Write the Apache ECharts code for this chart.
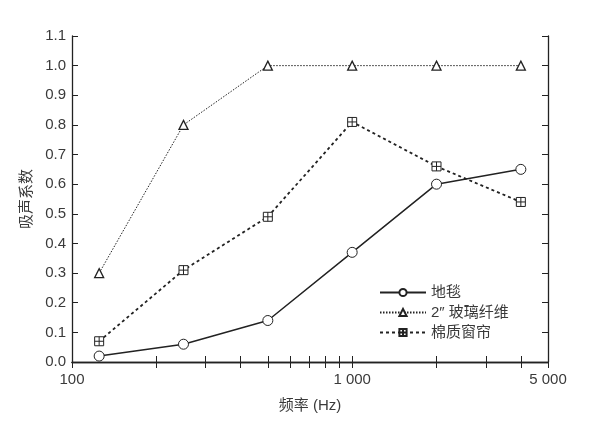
<!DOCTYPE html>
<html>
<head>
<meta charset="utf-8">
<style>
  html, body { margin: 0; padding: 0; background: #fff; }
  #chart { width: 600px; height: 424px; }
</style>
<script src="https://cdn.jsdelivr.net/npm/echarts@6/dist/echarts.min.js"></script>
</head>
<body>
<div id="chart"></div>
<script>
// 频率 (Hz)
const freqs = [125, 250, 500, 1000, 2000, 4000]
const carpet = [0.02, 0.06, 0.14, 0.37, 0.60, 0.65]
const glassFiber = [0.30, 0.80, 1.00, 1.00, 1.00, 1.00]
const curtain = [0.07, 0.31, 0.49, 0.81, 0.66, 0.54]

const xTickValues = [100, 200, 300, 400, 500, 600, 700, 800, 900, 1000, 2000, 3000, 4000, 5000]
const xLabelValues = [100, 1000, 5000]

const font = "'Liberation Sans', Arial, 'Noto Sans CJK SC', sans-serif"
const ink = '#222'
const textColor = '#3a3a3a'

const pairs = vals => freqs.map((f, i) => [f, vals[i]])
const fmtFreq = v => {
  v = Math.round(v)
  return v >= 1000 ? String(v).replace(/(\d)(?=(\d{3})+$)/, '$1 ') : String(v)
}

const chart = echarts.init(document.getElementById('chart'))

const xBase = {
  type: 'log',
  logBase: 10,
  min: 100,
  max: 5000,
  axisLine: { show: true, lineStyle: { color: ink, width: 1.3 } },
  axisTick: { inside: true, length: 6, customValues: xTickValues, lineStyle: { color: ink, width: 1 } },
  minorTick: { show: false },
  splitLine: { show: false }
}
const yBase = {
  type: 'value',
  min: 0,
  max: 1.1,
  interval: 0.1,
  axisLine: { show: true, lineStyle: { color: ink, width: 1.3 } },
  axisTick: { show: true, inside: true, length: 6, lineStyle: { color: ink, width: 1 } },
  splitLine: { show: false }
}

chart.setOption({
  backgroundColor: '#fff',
  animation: false,
  textStyle: { fontFamily: font },
  grid: { left: 72, right: 52, top: 36, bottom: 62 },
  legend: {
    orient: 'vertical',
    left: 374,
    top: 280,
    itemWidth: 46,
    itemHeight: 9,
    itemGap: 5,
    textStyle: { fontFamily: font, fontSize: 15, color: textColor },
    data: ['地毯', '2″ 玻璃纤维', '棉质窗帘']
  },
  xAxis: [
    Object.assign({}, xBase, {
      position: 'bottom',
      name: '频率 (Hz)',
      nameLocation: 'middle',
      nameGap: 36,
      nameTextStyle: { fontFamily: font, fontSize: 15, color: textColor },
      axisLabel: { customValues: xLabelValues, margin: 10, fontSize: 15, color: textColor, fontFamily: font, formatter: fmtFreq }
    }),
    Object.assign({}, xBase, { position: 'top', axisLabel: { show: false } })
  ],
  yAxis: [
    Object.assign({}, yBase, {
      position: 'left',
      name: '吸声系数',
      nameLocation: 'middle',
      nameGap: 38,
      nameRotate: 90,
      nameTextStyle: { fontFamily: font, fontSize: 15, color: textColor },
      axisLabel: { margin: 6, fontSize: 15, color: textColor, fontFamily: font, formatter: v => v.toFixed(1) }
    }),
    Object.assign({}, yBase, { position: 'right', axisLabel: { show: false } })
  ],
  series: [{
    name: '地毯',
    type: 'line',
    data: pairs(carpet),
    symbol: 'circle',
    symbolSize: 10,
    showAllSymbol: true,
    lineStyle: { color: ink, width: 1.5, type: 'solid' },
    itemStyle: { color: '#fff', borderColor: ink, borderWidth: 1 }
  }, {
    name: '2″ 玻璃纤维',
    type: 'line',
    data: pairs(glassFiber),
    symbol: 'triangle',
    symbolSize: 9,
    lineStyle: { color: ink, width: 1, type: [1.5, 1.5] },
    itemStyle: { color: '#fff', borderColor: ink, borderWidth: 1.3 }
  }, {
    name: '棉质窗帘',
    type: 'line',
    data: pairs(curtain),
    symbol: 'path://M0,0H10V10H0Z M5,0V10 M0,5H10',
    symbolSize: 9,
    lineStyle: { color: ink, width: 1.8, type: [3, 3] },
    itemStyle: { color: '#fff', borderColor: ink, borderWidth: 1 }
  }]
})
</script>
</body>
</html>
